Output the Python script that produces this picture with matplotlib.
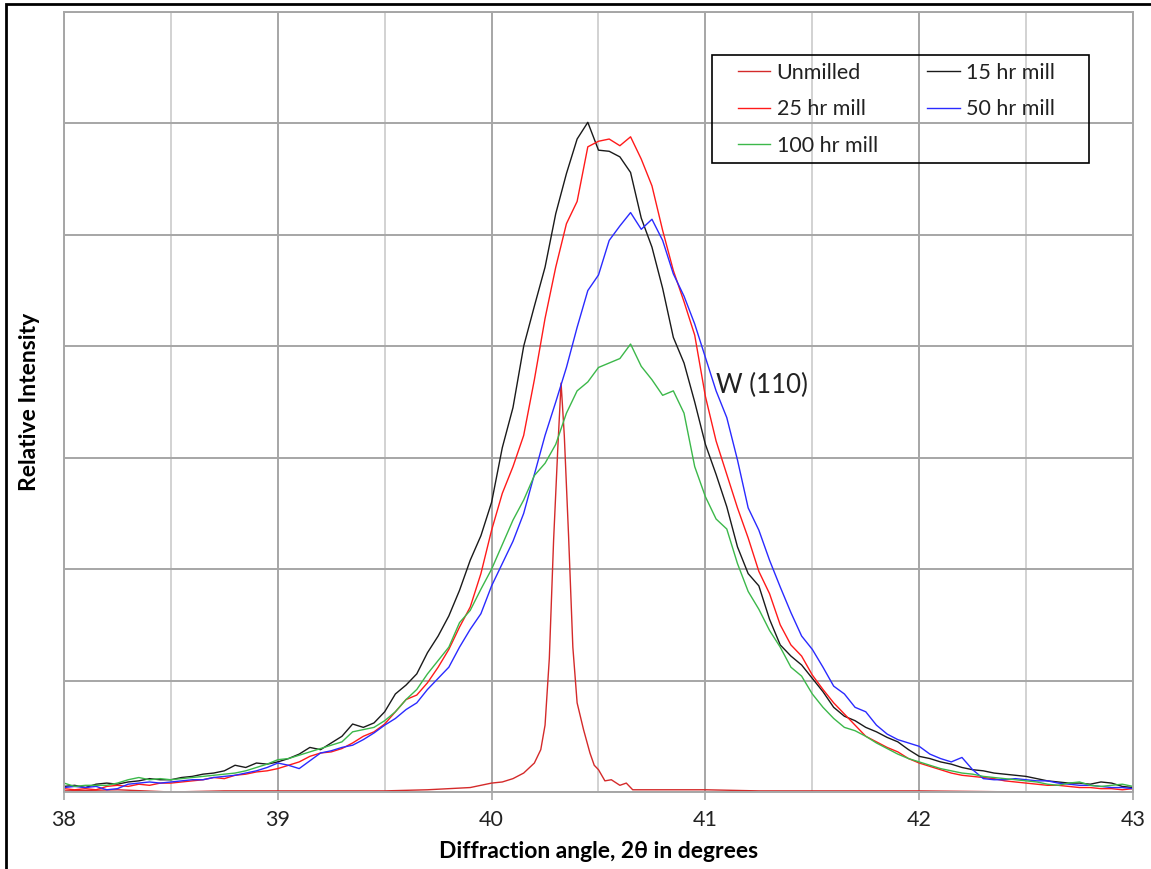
import numpy as np
import matplotlib.pyplot as plt
from matplotlib.patches import Rectangle

# 2-theta grid used for the milled samples (0.05 deg steps)
angle = np.linspace(38, 43, 101)

hr15 = [0.05, 0.06, 0.04, 0.07, 0.08, 0.07, 0.09, 0.10, 0.12, 0.11,
        0.11, 0.13, 0.14, 0.16, 0.17, 0.19, 0.24, 0.22, 0.26, 0.25,
        0.27, 0.30, 0.34, 0.40, 0.38, 0.44, 0.50, 0.61, 0.58, 0.62,
        0.72, 0.88, 0.96, 1.06, 1.25, 1.40, 1.58, 1.81, 2.08, 2.30,
        2.60, 3.09, 3.45, 4.00, 4.36, 4.71, 5.19, 5.55, 5.86, 6.01,
        5.76, 5.75, 5.70, 5.56, 5.15, 4.89, 4.52, 4.08, 3.85, 3.50,
        3.12, 2.85, 2.56, 2.20, 1.96, 1.85, 1.55, 1.32, 1.22, 1.14,
        1.02, 0.90, 0.76, 0.68, 0.64, 0.58, 0.54, 0.49, 0.45, 0.38,
        0.32, 0.30, 0.27, 0.25, 0.22, 0.20, 0.19, 0.17, 0.16, 0.15,
        0.14, 0.12, 0.10, 0.09, 0.08, 0.08, 0.07, 0.09, 0.08, 0.05,
        0.04]

hr25 = [0.03, 0.02, 0.03, 0.02, 0.05, 0.06, 0.05, 0.07, 0.06, 0.08,
        0.08, 0.09, 0.10, 0.11, 0.13, 0.12, 0.15, 0.16, 0.18, 0.19,
        0.21, 0.24, 0.27, 0.32, 0.35, 0.36, 0.39, 0.44, 0.50, 0.54,
        0.61, 0.72, 0.83, 0.87, 0.98, 1.12, 1.28, 1.48, 1.66, 1.96,
        2.35, 2.68, 2.92, 3.20, 3.70, 4.25, 4.71, 5.10, 5.30, 5.79,
        5.84, 5.86, 5.80, 5.88, 5.68, 5.44, 5.04, 4.68, 4.40, 4.10,
        3.55, 3.15, 2.85, 2.55, 2.28, 1.98, 1.78, 1.50, 1.32, 1.22,
        1.05, 0.92, 0.80, 0.70, 0.60, 0.50, 0.45, 0.40, 0.36, 0.30,
        0.26, 0.23, 0.20, 0.17, 0.15, 0.14, 0.13, 0.12, 0.10, 0.09,
        0.08, 0.07, 0.06, 0.06, 0.05, 0.04, 0.04, 0.03, 0.03, 0.02,
        0.03]

hr50 = [0.04, 0.05, 0.04, 0.05, 0.02, 0.03, 0.07, 0.08, 0.09, 0.08,
        0.09, 0.10, 0.11, 0.11, 0.13, 0.14, 0.15, 0.17, 0.19, 0.22,
        0.26, 0.24, 0.21, 0.28, 0.35, 0.37, 0.40, 0.42, 0.47, 0.53,
        0.60, 0.66, 0.74, 0.80, 0.92, 1.02, 1.12, 1.30, 1.46, 1.60,
        1.85, 2.05, 2.25, 2.50, 2.85, 3.20, 3.50, 3.81, 4.17, 4.50,
        4.64, 4.95, 5.08, 5.20, 5.05, 5.14, 4.95, 4.65, 4.45, 4.20,
        3.90, 3.60, 3.36, 2.98, 2.55, 2.35, 2.08, 1.84, 1.61, 1.40,
        1.28, 1.12, 0.95, 0.88, 0.76, 0.72, 0.60, 0.52, 0.47, 0.44,
        0.41, 0.34, 0.30, 0.27, 0.31, 0.20, 0.12, 0.11, 0.11, 0.12,
        0.11, 0.10, 0.10, 0.08, 0.07, 0.06, 0.06, 0.05, 0.04, 0.04,
        0.03]

hr100 = [0.08, 0.05, 0.06, 0.06, 0.06, 0.08, 0.11, 0.13, 0.11, 0.12,
         0.11, 0.12, 0.13, 0.14, 0.15, 0.16, 0.17, 0.19, 0.22, 0.25,
         0.29, 0.30, 0.33, 0.36, 0.39, 0.42, 0.45, 0.54, 0.56, 0.58,
         0.64, 0.72, 0.83, 0.92, 1.06, 1.18, 1.30, 1.52, 1.63, 1.82,
         2.00, 2.22, 2.44, 2.62, 2.84, 2.95, 3.12, 3.40, 3.60, 3.68,
         3.81, 3.85, 3.89, 4.02, 3.82, 3.70, 3.56, 3.60, 3.40, 2.92,
         2.65, 2.45, 2.36, 2.05, 1.80, 1.64, 1.45, 1.30, 1.12, 1.04,
         0.88, 0.76, 0.66, 0.58, 0.55, 0.50, 0.44, 0.39, 0.34, 0.30,
         0.27, 0.24, 0.21, 0.19, 0.17, 0.16, 0.14, 0.13, 0.12, 0.11,
         0.10, 0.09, 0.07, 0.06, 0.08, 0.09, 0.06, 0.05, 0.06, 0.07,
         0.05]

# unmilled sample: sharp W(110) peak
unmilled_angle = [38.0, 38.25, 38.5, 38.75, 39.0, 39.25, 39.5, 39.7, 39.8,
                  39.9, 39.95, 40.0, 40.05, 40.1, 40.15, 40.2, 40.23, 40.25,
                  40.27, 40.29, 40.31, 40.325, 40.34, 40.36, 40.38, 40.4,
                  40.43, 40.46, 40.48, 40.5, 40.53, 40.56, 40.6, 40.63,
                  40.66, 40.75, 41.0, 41.25, 41.5, 42.0, 42.5, 43.0]
unmilled = [0.01, 0.02, 0.0, 0.01, 0.01, 0.01, 0.01, 0.02, 0.03,
            0.04, 0.06, 0.08, 0.09, 0.12, 0.17, 0.26, 0.38, 0.60,
            1.20, 2.26, 3.10, 3.67, 3.20, 2.30, 1.30, 0.80,
            0.56, 0.35, 0.24, 0.20, 0.10, 0.11, 0.06, 0.08,
            0.02, 0.02, 0.02, 0.01, 0.01, 0.01, 0.0, 0.0]

plt.rcParams['font.family'] = ['Lato', 'DejaVu Sans']

fig = plt.figure(figsize=(11.51, 8.69), dpi=100)
ax = fig.add_axes([64 / 1151, 77 / 869, 1069 / 1151, 780 / 869])

ax.plot(unmilled_angle, unmilled, color='#d42a2a', lw=1.0, label='Unmilled')
ax.plot(angle, hr15, color='#1a1a1a', lw=1.0, label='15 hr mill')
ax.plot(angle, hr25, color='#ff1a1a', lw=1.0, label='25 hr mill')
ax.plot(angle, hr50, color='#2a2aff', lw=1.0, label='50 hr mill')
ax.plot(angle, hr100, color='#3cb84a', lw=1.0, label='100 hr mill')

ax.set_xlim(38, 43)
ax.set_ylim(0, 7)
ax.set_xticks(range(38, 44))
ax.set_xticks(np.arange(38.5, 43, 1), minor=True)
ax.set_yticks(range(0, 8))
ax.set_axisbelow(True)
ax.grid(which='major', color='#a6a6a6', lw=1.4)
ax.grid(which='minor', axis='x', color='#d2d2d2', lw=1.4)
ax.tick_params(axis='y', left=False, labelleft=False)
ax.tick_params(axis='x', which='major', length=6, width=1.2, color='#a6a6a6',
               labelsize=15.5, pad=7, labelcolor='#222222')
ax.tick_params(axis='x', which='minor', length=0)
for s in ax.spines.values():
    s.set_color('#a6a6a6')
    s.set_linewidth(1.4)

ax.set_xlabel('Diffraction angle, 2θ in degrees', fontsize=16.5, fontweight='bold', labelpad=8)
ax.set_ylabel('Relative Intensity', fontsize=16.5, fontweight='bold', labelpad=17)

ax.text(41.05, 3.65, 'W (110)', fontsize=18.5, va='center', ha='left', color='#222222')

h, l = ax.get_legend_handles_labels()
order = [0, 2, 4, 1, 3]
leg = ax.legend([h[i] for i in order], [l[i] for i in order], ncol=2,
                loc='upper left', bbox_to_anchor=(738 / 1151, 1 - 63 / 869),
                bbox_transform=fig.transFigure, fontsize=15.5, frameon=False,
                handlelength=1.5, handletextpad=0.3, columnspacing=2.3,
                labelspacing=0.76, borderpad=0, borderaxespad=0)
for t in leg.get_texts():
    t.set_color('#222222')

# legend box
fig.patches.append(Rectangle((712 / 1151, 1 - 163 / 869), 377 / 1151, 108 / 869,
                             transform=fig.transFigure, fill=False,
                             edgecolor='black', lw=1.2, zorder=5))

# outer frame of the exported figure
fig.patches.append(Rectangle((6 / 1151, -0.02), 1.05, 1 - 4 / 869 + 0.02,
                             transform=fig.transFigure, fill=False,
                             edgecolor='black', lw=2))

fig.savefig('out.png', dpi=100)
